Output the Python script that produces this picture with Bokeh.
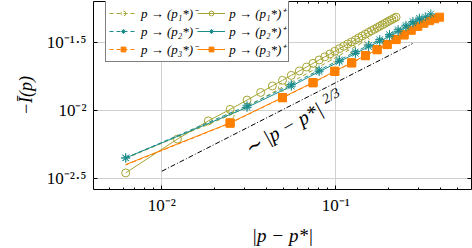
import math
from bokeh.plotting import figure
from bokeh.models import FixedTicker, LogAxis, Legend, LegendItem, Label, Range1d
from bokeh.embed import file_html
from bokeh.resources import INLINE

# ---------------- data ----------------
# |p - p*| grid
dp = [0.0062, 0.0123, 0.0185, 0.0247, 0.0309, 0.0370, 0.0432, 0.0494, 0.0555,
      0.0617, 0.0679, 0.0740, 0.0802, 0.0864, 0.0926, 0.0987, 0.1049, 0.1111,
      0.1172, 0.1234, 0.1296, 0.1357, 0.1419, 0.1481, 0.1543, 0.1604, 0.1666,
      0.1728, 0.1789, 0.1851, 0.1913, 0.1974, 0.2036, 0.2098, 0.2160, 0.2221]
# p -> (p1*)+
p1_plus = [0.00350, 0.00621, 0.00845, 0.01026, 0.01202, 0.01368, 0.01527, 0.01679,
           0.01827, 0.01968, 0.02104, 0.02239, 0.02371, 0.02500, 0.02624, 0.02748,
           0.02871, 0.02992, 0.03112, 0.03221, 0.03334, 0.03451, 0.03565, 0.03673,
           0.03784, 0.03890, 0.03990, 0.04102, 0.04198, 0.04305, 0.04406, 0.04508,
           0.04613, 0.04699, 0.04797, 0.04898]
# p -> (p1*)-
p1_minus_x = [0.0062, 0.0123, 0.0185, 0.0247, 0.0309, 0.0370, 0.0432, 0.0494,
              0.0555, 0.0617, 0.0679, 0.0740, 0.0802, 0.0864, 0.0926, 0.0987,
              0.1049, 0.1111, 0.1172, 0.1234, 0.1296, 0.1357, 0.1419, 0.1481]
p1_minus = [0.00447, 0.00646, 0.00794, 0.00933, 0.01072, 0.01219, 0.01361, 0.01496,
            0.01629, 0.01754, 0.01875, 0.01995, 0.02113, 0.02228, 0.02339, 0.02449,
            0.02559, 0.02667, 0.02773, 0.02871, 0.02972, 0.03076, 0.03177, 0.03273]
# p -> (p2*)+ / (p2*)-
p2_x = [0.0062, 0.0309, 0.0555, 0.0802, 0.1049, 0.1296, 0.1543, 0.1789, 0.2036,
        0.2283, 0.2530, 0.2777, 0.3023, 0.3270, 0.3517]
p2_plus = [0.00451, 0.01062, 0.01521, 0.01945, 0.02307, 0.02649, 0.02965, 0.03258,
           0.03548, 0.03855, 0.04150, 0.04426, 0.04688, 0.04932, 0.05176]
p2_minus_x = [0.0062, 0.0309, 0.0555, 0.0802, 0.1049, 0.1296, 0.1543, 0.1789,
              0.2036, 0.2283, 0.2530, 0.2777, 0.3023]
p2_minus = [0.00451, 0.01092, 0.01563, 0.01999, 0.02371, 0.02723, 0.03048, 0.03349,
            0.03647, 0.03962, 0.04266, 0.04550, 0.04819]
# p -> (p3*)+ / (p3*)-
p3_x = [0.0062, 0.0247, 0.0494, 0.0740, 0.0987, 0.1234, 0.1481, 0.1728, 0.1974,
        0.2221, 0.2468, 0.2715, 0.2962, 0.3209, 0.3455, 0.3702, 0.3949]
p3_plus = [0.00403, 0.00817, 0.01256, 0.01618, 0.01963, 0.02265, 0.02559, 0.02831,
           0.03090, 0.03365, 0.03639, 0.03917, 0.04188, 0.04416, 0.04613, 0.04764,
           0.04898]
p3_minus_x = [0.0062, 0.0247, 0.0494, 0.0740, 0.0987, 0.1234, 0.1481, 0.1728,
              0.1974, 0.2221, 0.2468]
p3_minus = [0.00400, 0.00812, 0.01249, 0.01609, 0.01952, 0.02253, 0.02546, 0.02817,
            0.03075, 0.03349, 0.03622]
# reference slope line ~ |p - p*|^(2/3)
ref_x = [0.01, 0.276]
ref_y = [0.0036, 0.0313]

x_ticks = [0.01, 0.1]
x_tick_labels = ["10⁻²", "10⁻¹"]
x_minor = [0.005, 0.006, 0.007, 0.008, 0.009, 0.02, 0.03, 0.04, 0.05, 0.06,
           0.07, 0.08, 0.09, 0.2, 0.3, 0.4, 0.5]
y_ticks = [0.0031623, 0.01, 0.031623]
y_tick_labels = ["10⁻²·⁵", "10⁻²", "10⁻¹·⁵"]

legend_labels = ["p → (p₁*)⁻", "p → (p₂*)⁻", "p → (p₃*)⁻",
                 "p → (p₁*)⁺", "p → (p₂*)⁺", "p → (p₃*)⁺"]

# ---------------- styling ----------------
OLIVE = "#a5a535"
TEAL = "#1a8c8c"
ORANGE = "#ff8000"
SERIF = "Liberation Serif"

p = figure(width=472, height=248, x_axis_type="log", y_axis_type="log",
           x_range=Range1d(0.004050, 0.6026), y_range=Range1d(0.002642, 0.06386),
           output_backend="svg", toolbar_location=None,
           min_border_left=93, min_border_right=1, min_border_top=1,
           min_border_bottom=58, background_fill_color="white",
           border_fill_color="white", outline_line_color="black",
           outline_line_width=1)

xt = FixedTicker(ticks=x_ticks, minor_ticks=x_minor)
yt = FixedTicker(ticks=y_ticks, minor_ticks=[])


def style_axis(ax):
    ax.major_tick_in = 4
    ax.major_tick_out = 0
    ax.minor_tick_in = 2
    ax.minor_tick_out = 0
    ax.axis_line_color = None
    ax.major_tick_line_color = "black"
    ax.minor_tick_line_color = "black"
    ax.major_label_text_font = SERIF
    ax.major_label_text_font_size = "17px"
    ax.major_label_text_color = "black"
    ax.axis_label_text_font = SERIF
    ax.axis_label_text_font_size = "18px"
    ax.axis_label_text_font_style = "italic"
    ax.axis_label_text_color = "black"


xa = p.xaxis[0]
ya = p.yaxis[0]
xa.ticker = xt
ya.ticker = yt
xa.major_label_overrides = dict(zip(x_ticks, x_tick_labels))
ya.major_label_overrides = dict(zip(y_ticks, y_tick_labels))
style_axis(xa)
style_axis(ya)
xa.axis_label = "|p − p*|"
ya.axis_label = "−Ī(p)"
xa.axis_label_text_font_size = "19px"
xa.major_label_standoff = 6
ya.major_label_standoff = 7
xa.axis_label_standoff = 7
ya.axis_label_standoff = 8

# ticks on the top and right sides of the box (no labels)
top = LogAxis(ticker=xt)
right = LogAxis(ticker=yt)
for ax in (top, right):
    style_axis(ax)
    ax.major_label_text_font_size = "1px"
    ax.major_label_text_alpha = 0
    ax.major_label_standoff = 0
top.major_label_overrides = {t: " " for t in x_ticks}
right.major_label_overrides = {t: " " for t in y_ticks}
p.add_layout(top, "above")
p.add_layout(right, "right")

p.xgrid.ticker = xt
p.ygrid.ticker = yt
p.xgrid.grid_line_color = "#d0d0d0"
p.ygrid.grid_line_color = "#d0d0d0"

# reference line
p.line(ref_x, ref_y, line_color="black", line_width=1, line_dash="5 2 1 2")

# series
l1m = p.line(p1_minus_x, p1_minus, line_color=OLIVE, line_width=1, line_dash="4 3")
s1m = p.scatter(p1_minus_x[3::4], p1_minus[3::4], marker="circle", size=8,
                fill_color=None, line_color=OLIVE, line_width=1, line_dash="3 2")
l1p = p.line(dp, p1_plus, line_color=OLIVE, line_width=1)
s1p = p.scatter(dp, p1_plus, marker="circle", size=8, fill_color=None,
                line_color=OLIVE, line_width=1)

l3m = p.line(p3_minus_x, p3_minus, line_color=ORANGE, line_width=1, line_dash="4 3")
s3m = p.scatter(p3_minus_x[1:], p3_minus[1:], marker="square", size=8,
                fill_color=ORANGE, line_color=ORANGE)
l3p = p.line(p3_x, p3_plus, line_color=ORANGE, line_width=1)
s3p = p.scatter(p3_x[1:], p3_plus[1:], marker="square", size=8,
                fill_color=ORANGE, line_color=ORANGE)

l2m = p.line(p2_minus_x, p2_minus, line_color=TEAL, line_width=1, line_dash="4 3")
s2m = p.scatter(p2_minus_x, p2_minus, marker="asterisk", size=9,
                line_color=TEAL, line_width=1)
l2p = p.line(p2_x, p2_plus, line_color=TEAL, line_width=1)
s2p = p.scatter(p2_x, p2_plus, marker="asterisk", size=9, line_color=TEAL,
                line_width=1)

items = [
    LegendItem(label=legend_labels[0], renderers=[l1m, s1m]),
    LegendItem(label=legend_labels[1], renderers=[l2m, s2m]),
    LegendItem(label=legend_labels[2], renderers=[l3m, s3m]),
    LegendItem(label=legend_labels[3], renderers=[l1p, s1p]),
    LegendItem(label=legend_labels[4], renderers=[l2p, s2p]),
    LegendItem(label=legend_labels[5], renderers=[l3p, s3p]),
]
legend = Legend(items=items, ncols=2, location=(12, 127),
                label_text_font=SERIF, label_text_font_size="13px",
                label_text_font_style="italic", label_text_color="black",
                glyph_width=28, glyph_height=12, label_standoff=4,
                label_height=12, spacing=0, padding=3, margin=0,
                border_line_color="black", border_line_width=1,
                background_fill_color="white", background_fill_alpha=1)
p.add_layout(legend)

# slope annotation, anchored on the reference line
slope = math.log(ref_y[1] / ref_y[0]) / math.log(ref_x[1] / ref_x[0])
lab_x = 0.0324
lab_y = ref_y[0] * (lab_x / ref_x[0]) ** slope
ang = math.radians(29)
y_off = -33
p.add_layout(Label(x=lab_x, y=lab_y, text="∼ |p − p*|", angle=ang,
                   x_offset=0, y_offset=y_off, text_font=SERIF,
                   text_font_size="20px", text_font_style="italic",
                   text_color="black"))
w, h = 92, 9
p.add_layout(Label(x=lab_x, y=lab_y, text="2/3", angle=ang,
                   x_offset=w * math.cos(ang) - h * math.sin(ang),
                   y_offset=y_off + w * math.sin(ang) + h * math.cos(ang),
                   text_font=SERIF, text_font_size="14px",
                   text_font_style="italic", text_color="black"))

open("out.html", "w").write(file_html(p, INLINE))
